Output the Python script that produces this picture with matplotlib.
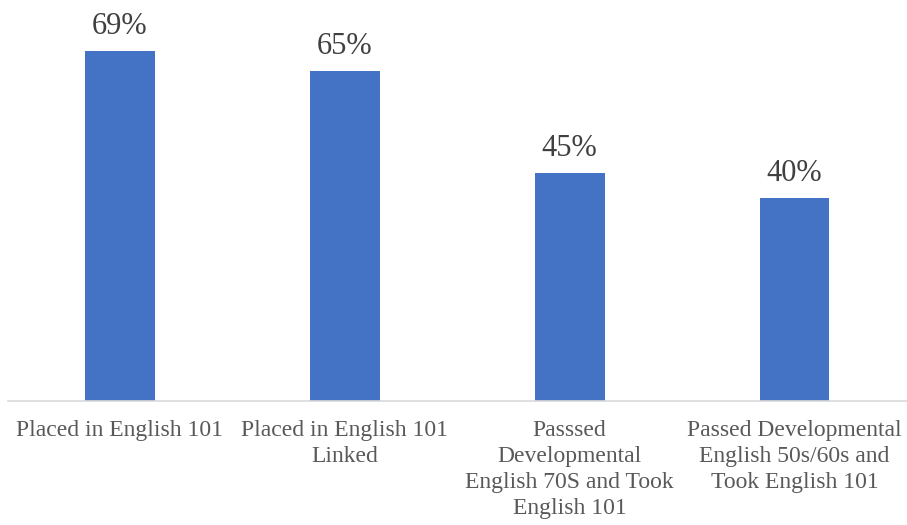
import matplotlib.pyplot as plt
import numpy as np

categories = [
    "Placed in English 101",
    "Placed in English 101\nLinked",
    "Passsed\nDevelopmental\nEnglish 70S and Took\nEnglish 101",
    "Passed Developmental\nEnglish 50s/60s and\nTook English 101",
]
values = [69, 65, 45, 40]
value_labels = ["69%", "65%", "45%", "40%"]

plt.rcParams['font.family'] = ['Liberation Serif', 'DejaVu Serif']

fig = plt.figure(figsize=(9.07, 5.25), dpi=100)
ax = fig.add_axes([0.0083, 1 - 401 / 525, 0.9917, 401 / 525])

x = np.arange(len(categories))
bars = ax.bar(x, values, width=0.31, color='#4472C4', zorder=2)

for b, lab in zip(bars, value_labels):
    ax.annotate(lab, (b.get_x() + b.get_width() / 2, b.get_height()),
                xytext=(0, 12.5), textcoords='offset points',
                ha='center', va='baseline', fontsize=22, color='#404040')

ax.set_xlim(-0.5, len(categories) - 0.5)
ax.set_ylim(0, 79.1)
ax.set_xticks(x)
ax.set_xticklabels(categories, fontsize=17, color='#595959', linespacing=1.3)
ax.tick_params(axis='x', length=0, pad=14)
ax.set_yticks([])
for side in ['top', 'right', 'left']:
    ax.spines[side].set_visible(False)
ax.spines['bottom'].set_color('#d9d9d9')
ax.spines['bottom'].set_linewidth(1.2)

fig.savefig("out.png", dpi=100)
